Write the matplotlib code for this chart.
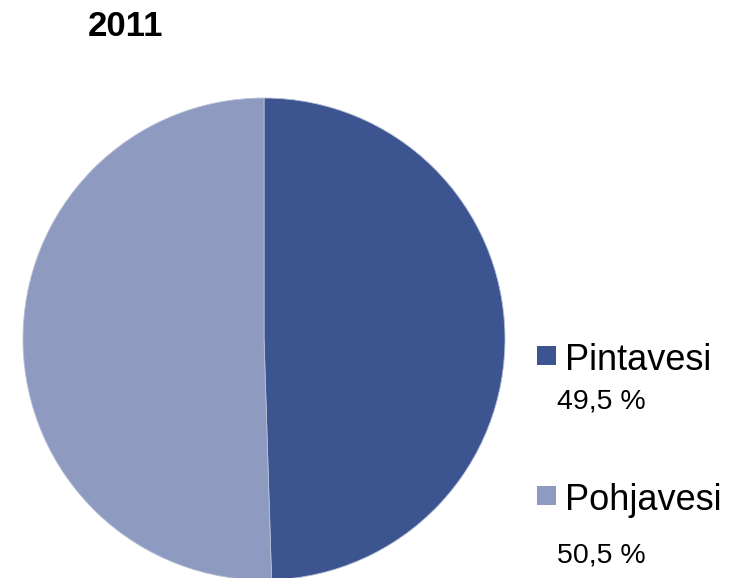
import matplotlib.pyplot as plt
from matplotlib.patches import Rectangle

plt.rcParams['font.family'] = ['Liberation Sans', 'DejaVu Sans']

# Data
otsikko = '2011'
lahteet = ['Pintavesi', 'Pohjavesi']
osuudet = [49.5, 50.5]
varit = ['#3C5591', '#8F9AC0']

W, H = 731, 578
fig = plt.figure(figsize=(W / 100, H / 100), dpi=100)
ax = fig.add_axes([0, 0, 1, 1])

# Pie, pixel coords (y from bottom)
ax.pie(osuudet, colors=varit, startangle=90, counterclock=False,
       center=(264, H - 339), radius=241,
       wedgeprops=dict(linewidth=0.6, edgecolor='#B8C0D8'))

# pie() resets the limits, so set them afterwards
ax.set_xlim(0, W)
ax.set_ylim(0, H)
ax.set_aspect('equal')
ax.axis('off')

# Title
fig.text(88 / W, 1 - 36 / H, otsikko, fontsize=25, fontweight='bold',
         ha='left', va='baseline')

# Legend with percentages
rivit = [(346, 370, 408), (486, 510, 563)]
for nimi, arvo, vari, (y_sq, y_txt, y_pct) in zip(lahteet, osuudet, varit, rivit):
    ax.add_patch(Rectangle((537, H - y_sq - 19), 19, 19, facecolor=vari,
                           edgecolor='none'))
    fig.text(565 / W, 1 - y_txt / H, nimi, fontsize=26, ha='left', va='baseline')
    fig.text(557 / W, 1 - y_pct / H, f'{arvo:.1f} %'.replace('.', ','),
             fontsize=20.5, ha='left', va='baseline')

plt.savefig('out.png', dpi=100)
